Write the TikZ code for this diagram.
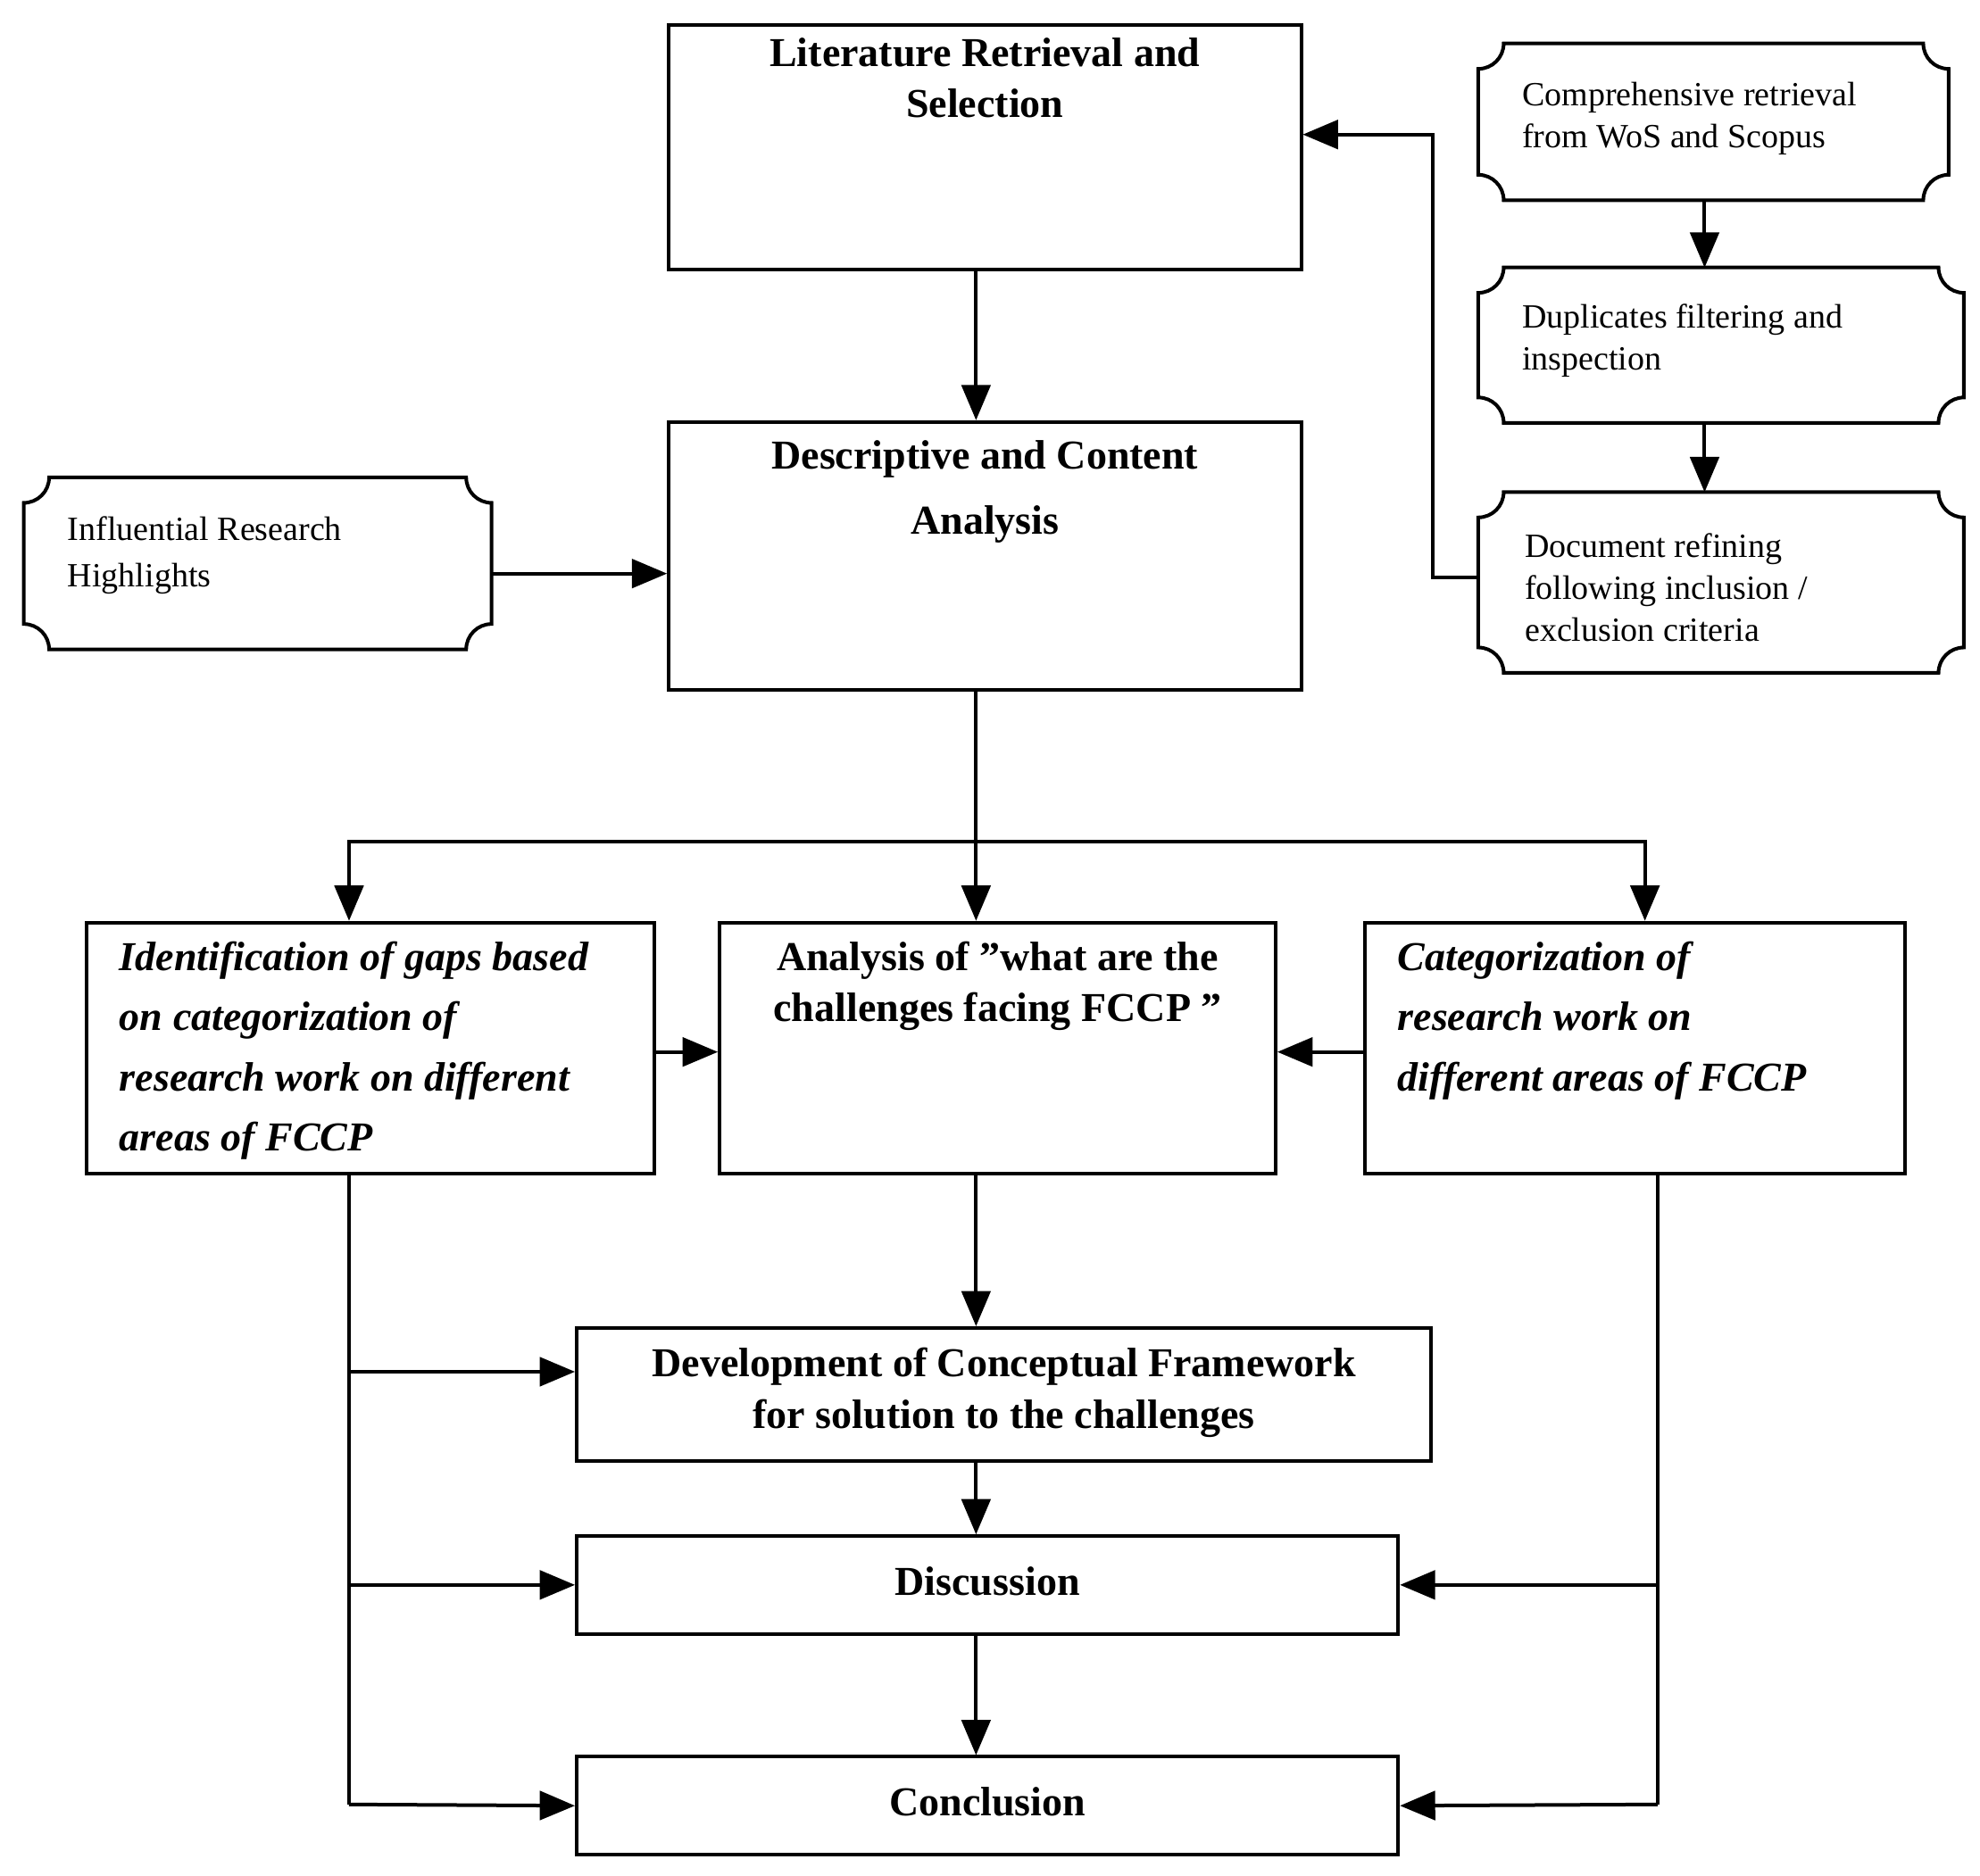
\documentclass[tikz,border=0pt]{standalone}
\usepackage{fontspec}
\setmainfont{Liberation Serif}
\usetikzlibrary{calc, arrows}
\tikzstyle{boxes} = [rectangle, draw=black, thick, inner sep=0pt]
\tikzstyle{title} = [font=\fontsize{9.2}{11.5}\selectfont\bfseries, align=center, inner sep=3pt]
\tikzstyle{ititle} = [font=\fontsize{9.2}{13.5}\selectfont\bfseries\itshape, align=left, inner sep=3pt]
\tikzstyle{small} = [font=\fontsize{7.6}{9.4}\selectfont, align=left, inner sep=0pt]
\tikzstyle{arrow} = [thick, ->, >=triangle 45]
\newcommand{\plaque}[1]{%
  \draw[thick] ($(#1.north west)+(0.2cm,0)$) -- ($(#1.north east)+(-0.2cm,0)$)
    arc[start angle=180, end angle=270, radius=0.2cm] -- ($(#1.south east)+(0,0.2cm)$)
    arc[start angle=90, end angle=180, radius=0.2cm] -- ($(#1.south west)+(0.2cm,0)$)
    arc[start angle=0, end angle=90, radius=0.2cm] -- ($(#1.north west)+(0,-0.2cm)$)
    arc[start angle=270, end angle=360, radius=0.2cm] -- cycle;}
\begin{document}
\begin{tikzpicture}[x=0.01cm, y=-0.01cm]
    \useasboundingbox (0,0) rectangle (1560,1478);
    %Main Nodes
    \node (lit) [boxes, minimum width=4.98cm, minimum height=1.92cm] at (776,116) {};
    \node [title, below] at (lit.north) {Literature Retrieval and\\Selection};
    \node (desc) [boxes, minimum width=4.98cm, minimum height=2.11cm] at (776,438) {};
    \node [title, below] at ($(desc.north)+(0,5)$) {Descriptive and Content\\[3pt]Analysis};
    \node (ident) [boxes, minimum width=4.47cm, minimum height=1.98cm] at (292,826) {};
    \node [ititle, below right] at ($(ident.north west)+(16,5)$) {Identification of gaps based\\on categorization of\\research work on different\\areas of FCCP};
    \node (anal) [boxes, minimum width=4.38cm, minimum height=1.98cm] at (786,826) {};
    \node [title, below] at ($(anal.north)+(0,5)$) {Analysis of "what are the\\challenges facing FCCP "};
    \node (categ) [boxes, minimum width=4.25cm, minimum height=1.98cm] at (1288,826) {};
    \node [ititle, below right] at ($(categ.north west)+(16,5)$) {Categorization of\\research work on\\different areas of FCCP};
    \node (dev) [boxes, minimum width=6.73cm, minimum height=1.05cm] at (791,1099) {};
    \node [title, below] at ($(dev.north)+(0,6)$) {Development of Conceptual Framework\\for solution to the challenges};
    \node (disc) [boxes, minimum width=6.47cm, minimum height=0.77cm] at (778,1249) {};
    \node [title] at ($(disc.center)+(0,-3)$) {Discussion};
    \node (concl) [boxes, minimum width=6.47cm, minimum height=0.77cm] at (778,1423) {};
    \node [title] at ($(concl.center)+(0,-3)$) {Conclusion};

    %Supplementary Nodes
    \node (comp) [minimum width=3.69cm, minimum height=1.22cm] at (1350,96) {};
    \plaque{comp}
    \node [small, below right] at ($(comp.north west)+(34,30)$) {Comprehensive retrieval\\from WoS and Scopus};
    \node (dup) [minimum width=3.81cm, minimum height=1.21cm] at (1356,272) {};
    \plaque{dup}
    \node [small, below right] at ($(dup.north west)+(34,28)$) {Duplicates filtering and\\inspection};
    \node (docref) [minimum width=3.81cm, minimum height=1.41cm] at (1356,459) {};
    \plaque{docref}
    \node [small, below right] at ($(docref.north west)+(36,32)$) {Document refining\\following inclusion /\\exclusion criteria};
    \node (infl) [minimum width=3.67cm, minimum height=1.34cm] at (203,444) {};
    \plaque{infl}
    \node [small, below right] at ($(infl.north west)+(34,30)$) {Influential Research\\[1pt]Highlights};

    %Junctions
    \coordinate (split) at (769,663);
    \coordinate (lbus) at (275,1422);
    \coordinate (rbus) at (1306,1422);

    %Arrows
    \draw [arrow] (lit.south -| split) -- (desc.north -| split);
    \draw [arrow] (comp.south -| 1343,0) -- (dup.north -| 1343,0);
    \draw [arrow] (dup.south -| 1343,0) -- (docref.north -| 1343,0);
    \draw [arrow] (docref.west |- 0,455) -- (1129,455) |- (lit.east |- 0,106);
    \draw [arrow] (infl.east |- 0,452) -- (desc.west |- 0,452);
    \draw [thick] (desc.south -| split) -- (split);
    \draw [arrow] (split) -- (anal.north -| split);
    \draw [arrow] (split) -| (ident.north -| lbus);
    \draw [arrow] (split) -| (categ.north -| 1296,0);
    \draw [arrow] (ident.east |- 0,829) -- (anal.west |- 0,829);
    \draw [arrow] (categ.west |- 0,829) -- (anal.east |- 0,829);
    \draw [arrow] (anal.south -| split) -- (dev.north -| split);
    \draw [arrow] (dev.south -| split) -- (disc.north -| split);
    \draw [arrow] (disc.south -| split) -- (concl.north -| split);
    \draw [thick] (ident.south -| lbus) -- (lbus);
    \draw [arrow] (lbus |- 0,1081) -- (dev.west |- 0,1081);
    \draw [arrow] (lbus |- disc.west) -- (disc.west);
    \draw [arrow] (lbus) -- (concl.west);
    \draw [thick] (categ.south -| rbus) -- (rbus);
    \draw [arrow] (rbus |- disc.east) -- (disc.east);
    \draw [arrow] (rbus) -- (concl.east);
\end{tikzpicture}
\end{document}
